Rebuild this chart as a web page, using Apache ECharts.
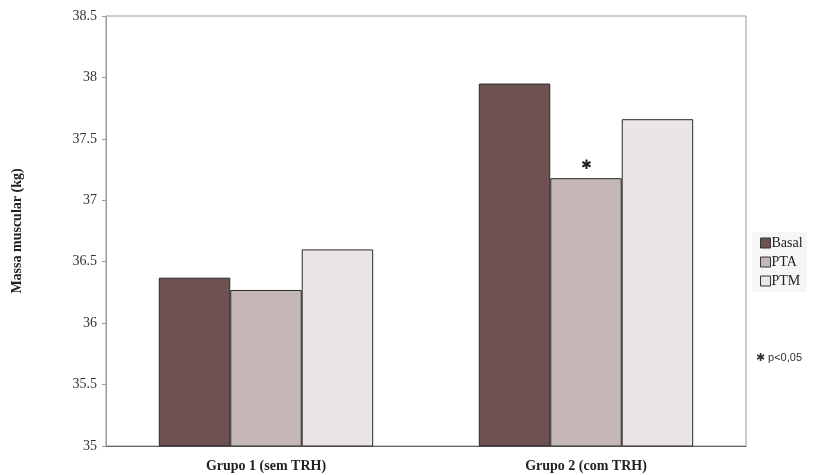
<!DOCTYPE html>
<html>
<head>
<meta charset="utf-8">
<script src="https://cdn.jsdelivr.net/npm/echarts@6/dist/echarts.min.js"></script>
<style>html,body{margin:0;padding:0;background:#fff}#c{width:824px;height:475px}</style>
</head>
<body>
<div id="c"></div>
<script>
const categories = ['Grupo 1 (sem TRH)', 'Grupo 2 (com TRH)'];
const seriesNames = ['Basal', 'PTA', 'PTM'];
const basal = [36.37, 37.95];
const pta = [36.27, 37.18];
const ptm = [36.60, 37.66];
const significant = [false, true]; // PTA marked with star
const yMin = 35, yMax = 38.5, yStep = 0.5;

const serif = '"Liberation Serif", "DejaVu Serif", serif';
const colors = ['#6e5151', '#c4b7b5', '#ebe6e5'];

const chart = echarts.init(document.getElementById('c'), null, {renderer: 'canvas'});
const mk = (name, data, idx, withStar) => ({
  name, type: 'bar', data: data.map((v, i) => withStar && significant[i] ? {
    value: v,
    label: {show: true, position: 'top', distance: 6, formatter: '✱', fontSize: 13, color: '#222'}
  } : v),
  barGap: '0%', barCategoryGap: '33%',
  itemStyle: {color: colors[idx], borderColor: '#2a2a2a', borderWidth: 1},
  emphasis: {disabled: true}
});

chart.setOption({
  animation: false,
  backgroundColor: '#fff',
  grid: {left: 106, top: 16, right: 78, bottom: 29, show: true, borderColor: '#999', borderWidth: 1},
  legend: {
    orient: 'vertical', left: 752, top: 232, itemWidth: 10, itemHeight: 10, itemGap: 5, icon: 'rect',
    backgroundColor: '#f6f6f6', padding: [4, 4, 4, 8],
    textStyle: {fontFamily: serif, fontSize: 14, color: '#222', padding: [0, 0, 0, -4]},
    itemStyle: {borderColor: '#333', borderWidth: 1},
    data: seriesNames
  },
  xAxis: {
    type: 'category', data: categories,
    axisLine: {lineStyle: {color: '#666'}},
    axisTick: {show: false},
    axisLabel: {fontFamily: serif, fontSize: 14, fontWeight: 'bold', color: '#222', margin: 13}
  },
  yAxis: {
    type: 'value', min: yMin, max: yMax, interval: yStep,
    name: 'Massa muscular (kg)', nameLocation: 'middle', nameGap: 82, nameRotate: 90,
    nameTextStyle: {fontFamily: serif, fontSize: 14, fontWeight: 'bold', color: '#222'},
    axisLine: {show: true, lineStyle: {color: '#999'}},
    axisTick: {show: true, length: 4, lineStyle: {color: '#999'}},
    splitLine: {show: false},
    axisLabel: {fontFamily: serif, fontSize: 14, color: '#333', margin: 9}
  },
  series: [mk('Basal', basal, 0, false), mk('PTA', pta, 1, true), mk('PTM', ptm, 2, false)],
  graphic: [{
    type: 'text', left: 756, top: 352,
    style: {text: '✱ p<0,05', font: '11px "Liberation Sans", Arial, sans-serif', fill: '#333'}
  }]
});
</script>
</body>
</html>
